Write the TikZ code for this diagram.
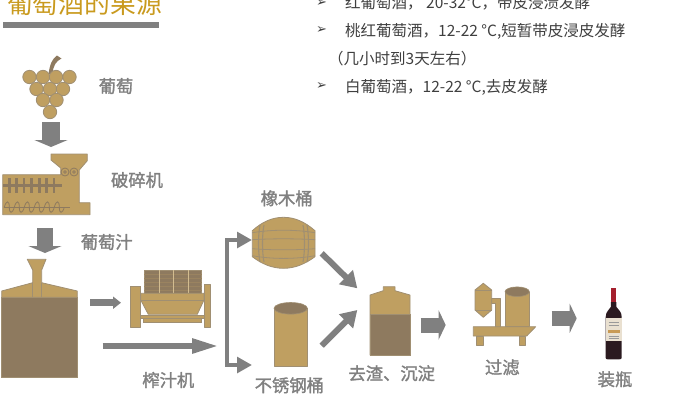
\documentclass[tikz,border=0pt]{standalone}
\usepackage{fontspec}
\setmainfont{Noto Sans CJK SC}
\newfontfamily\dejavu{DejaVu Sans}
\newfontfamily\labelfont[FakeBold=1.6]{Noto Sans CJK SC}
\usetikzlibrary{arrows.meta}
\definecolor{titlegold}{HTML}{C99A1E}
\definecolor{barrelgold}{HTML}{BF9F61}
\definecolor{mudbrown}{HTML}{8E7A5F}
\definecolor{edgebrown}{HTML}{A08F72}
\definecolor{flowgray}{HTML}{808080}
\definecolor{bodytext}{HTML}{3F3F3F}
\definecolor{winedark}{HTML}{2B1A20}
\definecolor{winered}{HTML}{A5202E}
\definecolor{winepaper}{HTML}{E9E0D0}
\definecolor{winecrest}{HTML}{C89A55}
\tikzset{
    part/.style={fill=barrelgold, draw=edgebrown, line width=0.8pt, line join=round},
    mud/.style={fill=mudbrown, draw=edgebrown, line width=0.6pt},
    steplabel/.style={text=flowgray, font=\labelfont\fontsize{17.3}{17}\selectfont, inner sep=0pt},
    infoline/.style={text=bodytext, font=\fontsize{15.5}{16}\selectfont, inner sep=0pt, anchor=base west},
    infobullet/.style={text=bodytext, font=\dejavu\fontsize{13}{13}\selectfont, inner sep=0pt},
    flowbar/.style={draw=flowgray, line width=#1},
    tipbig/.style={-{Triangle[width=29pt,length=7pt]}},
    tipmid/.style={-{Triangle[width=19pt,length=16pt]}},
}

\begin{document}
\begin{tikzpicture}[x=1pt, y=-1pt]
    \useasboundingbox (0,0) rectangle (691,400);
    \clip (0,0) rectangle (691,400);

    %% heading
    \node[text=titlegold, font=\fontsize{25.8}{26}\selectfont, inner sep=0pt, anchor=base] (title) at (84.5,13) {葡萄酒的果源};
    \fill[flowgray] (3,22) rectangle (159,28);

    %% notes on top right
    \foreach \y/\n in {9/a, 36/b, 92/c} {
        \node[infobullet] (bullet\n) at (321.5,\y-5.5) {➢};
    }
    \node[infoline] (notea) at (345,8.5) {红葡萄酒， 20-32°C，带皮浸渍发酵};
    \node[infoline] (noteb) at (345,36) {桃红葡萄酒，12-22 °C,短暂带皮浸皮发酵};
    \node[infoline] (notec) at (328,64) {（几小时到3天左右）};
    \node[infoline] (noted) at (345,92) {白葡萄酒，12-22 °C,去皮发酵};

    %% grapes
    \fill[mudbrown] (48.5,74) .. controls (50,64) and (52,59) .. (57,55.5) -- (61.5,58.5) .. controls (56,61) and (53,66) .. (52.5,74) -- cycle;
    \foreach \x/\y in {29.5/77, 43/77, 56/77, 69.5/77, 36.5/89, 50/89, 63/89, 43/100, 56.5/100, 50/112} {
        \draw[part] (\x,\y) circle (6.7);
    }
    \node[steplabel] (grapelabel) at (116,86) {葡萄};

    %% crusher
    \draw[part] (2.7,174.7) -- (60.7,174.7) -- (60.7,168) -- (51,160) -- (51,154) -- (87.3,154) -- (87.3,160.7) -- (79.3,170) -- (79.3,202.7) -- (90,202.7) -- (90,214.7) -- (2.7,214.7) -- cycle;
    \foreach \x in {65,74} {
        \draw[mudbrown, line width=0.8pt] (\x,172) circle (4) (\x,172) circle (1.4);
    }
    \fill[mudbrown] (2.7,184.3) rectangle (62.3,186.7);
    \foreach \x in {9.3,16.7,24,31.7,39.3,46.7,54} {
        \fill[mudbrown] (\x-1.4,178.3) rectangle (\x+1.4,193.3);
    }
    \draw[mudbrown, line width=0.8pt] (3.5,207.3) -- (70,207.3);
    \foreach \x in {9.3,19.3,29.3,39.3,49.3,59.3} {
        \draw[mudbrown, line width=0.8pt] (\x-5,207.3) .. controls (\x-3,200) and (\x,200) .. (\x,207.3) .. controls (\x,214) and (\x+3,214) .. (\x+5,207.3);
    }
    \node[steplabel] (crushlabel) at (137,180) {破碎机};

    %% tank with juice
    \draw[mud] (1.7,297.3) rectangle (77.3,377.7);
    \draw[part] (1.7,291) -- (32.7,282.7) -- (32.7,270) -- (27.3,259.3) -- (46,259.3) -- (41.7,270) -- (41.7,282.7) -- (77.3,291) -- (77.3,297.3) -- (1.7,297.3) -- cycle;
    \draw[edgebrown, line width=0.8pt] (32.7,282.7) -- (32.7,297.3) (41.7,282.7) -- (41.7,297.3);
    \node[steplabel] (juicelabel) at (106.7,242) {葡萄汁};

    %% press
    \draw[mud] (144.3,270) rectangle (201.7,293.3);
    \foreach \y in {274,278,282,286,290} {
        \draw[mudbrown!75!barrelgold, line width=0.4pt] (144.3,\y) -- (201.7,\y);
    }
    \foreach \x in {159.3,173.3,188.3} {
        \draw[barrelgold!70!white, line width=0.8pt] (\x,270) -- (\x,293.3);
    }
    \draw[part] (143.3,318.3) rectangle (201.7,322.7);
    \draw[part] (140.7,293.3) -- (204,293.3) -- (204,300) -- (197.3,314.3) -- (148.3,314.3) -- (140.7,300) -- cycle;
    \draw[edgebrown, line width=0.8pt] (140.7,300) -- (204,300);
    \draw[part] (140.7,315.8) rectangle (204,318.3);
    \draw[part] (130,286) rectangle (140.7,327.3);
    \draw[part] (204,284) rectangle (210,327.3);
    \node[steplabel] (presslabel) at (168.3,380) {榨汁机};

    %% barrel
    \draw[part] (252.3,230.7) .. controls (262,222) and (272,217.3) .. (283.5,217.3) .. controls (295,217.3) and (305,222) .. (315,230.7) -- (315,256.7) .. controls (305,264) and (295,268.3) .. (283.5,268.3) .. controls (272,268.3) and (262,264) .. (252.3,256.7) -- cycle;
    \foreach \bend in {-11,-4,5,12} {
        \draw[edgebrown, line width=0.8pt] (252.3,243.7+\bend) .. controls (272,243.7+\bend*1.3) and (295,243.7+\bend*1.3) .. (315,243.7+\bend);
    }
    \foreach \x/\s in {260/1, 264/1, 303/-1, 307/-1} {
        \draw[edgebrown, line width=1.1pt] (\x,225) .. controls (\x-2*\s,235) and (\x-2*\s,252) .. (\x,262);
    }
    \node[steplabel] (barrellabel) at (286.7,198.3) {橡木桶};

    %% steel tank
    \draw[part] (274,308.3) -- (274,366) -- (307.3,366) -- (307.3,308.3);
    \draw[fill=mudbrown, draw=edgebrown, line width=0.6pt] (290.7,308.3) ellipse (16.7 and 5.8);
    \node[steplabel] (steellabel) at (289.3,385.3) {不锈钢桶};

    %% settling tank
    \draw[part] (370,295) -- (383.3,290.7) -- (383.3,286.7) -- (395,286.7) -- (395,290.7) -- (410,295) -- (410,355) -- (370,355) -- cycle;
    \draw[mud] (370,314.3) rectangle (410,355);
    \node[steplabel] (settlelabel) at (391.7,373.3) {去渣、沉淀};

    %% filter
    \draw[part] (491.7,298.5) -- (500,298.5) -- (500,327) -- (495,327) -- (495,303) -- (491.7,303) -- cycle;
    \draw[part] (483.3,283.3) -- (491.7,290) -- (491.7,310) -- (483.3,317.3) -- (475,310) -- (475,290) -- cycle;
    \draw[edgebrown, line width=0.8pt] (475,290) -- (491.7,290) (475,310) -- (491.7,310);
    \draw[part] (505,291.7) -- (505,326.7) -- (529.3,326.7) -- (529.3,291.7);
    \draw[fill=mudbrown, draw=edgebrown, line width=0.6pt] (517.2,291.7) ellipse (12.2 and 4.8);
    \draw[part] (476.7,336) rectangle (483.3,345);
    \draw[part] (519.3,336) rectangle (525,345);
    \draw[part] (473.3,326.7) -- (535.7,326.7) -- (526.7,336) -- (473.3,336) -- cycle;
    \node[steplabel] (filterlabel) at (502.3,367.3) {过滤};

    %% bottle
    \fill[winedark] (611,302) -- (616.3,302) -- (616.5,307) .. controls (618,310) and (621.7,311) .. (621.7,317) -- (621.7,358) .. controls (621.7,359.3) and (620,359.3) .. (619,359.3) -- (608,359.3) .. controls (607,359.3) and (605.7,359.3) .. (605.7,358) -- (605.7,317) .. controls (605.7,311) and (609.5,310) .. (610.8,307) -- cycle;
    \fill[winered] (611,288.3) rectangle (616.3,302);
    \fill[winepaper] (605.7,318) rectangle (621.7,341);
    \fill[winecrest] (608,329.5) rectangle (620,332.5);
    \foreach \y in {322,325,336,338} {
        \draw[black!40, line width=0.4pt] (608.5,\y) -- (619,\y);
    }
    \node[steplabel] (bottlelabel) at (615,379.3) {装瓶};

    %% ends of the flow arrows
    \coordinate (grapeout) at (51,122);
    \coordinate (crushin) at (51,147);
    \coordinate (crushout) at (45,228);
    \coordinate (tankin) at (45,253);
    \coordinate (tankouta) at (90,302.7);
    \coordinate (pressin) at (121,302.7);
    \coordinate (tankoutb) at (102.7,346);
    \coordinate (splitin) at (220,346);
    \coordinate (barrelin) at (252,240);
    \coordinate (steelin) at (252,365);
    \coordinate (barrelout) at (321.7,253.3);
    \coordinate (steelout) at (321.7,345.7);
    \coordinate (settleina) at (357.3,288.3);
    \coordinate (settleinb) at (357.3,310);
    \coordinate (settleout) at (420.7,325);
    \coordinate (filterin) at (445.7,325);
    \coordinate (filterout) at (551.7,318.3);
    \coordinate (bottlein) at (576.7,318.3);

    %% flow arrows
    \draw[flowbar=18pt, -{Triangle[width=33pt,length=7pt]}] (grapeout) -- (crushin);
    \draw[flowbar=16pt, -{Triangle[width=33pt,length=7pt]}] (crushout) -- (tankin);
    \draw[flowbar=6.5pt, -{Triangle[width=12pt,length=8pt]}] (tankouta) -- (pressin);
    \draw[flowbar=6.5pt, -{Triangle[width=13.5pt,length=28pt]}] (tankoutb) -- (splitin);
    \draw[flowbar=4pt, {Triangle[width=15.7pt,length=15pt]}-{Triangle[width=15.7pt,length=15pt]}] (barrelin) -- (227,240) -- (227,365) -- (steelin);
    \draw[flowbar=6pt, tipmid] (barrelout) -- (settleina);
    \draw[flowbar=6pt, tipmid] (steelout) -- (settleinb);
    \draw[flowbar=15pt, tipbig] (settleout) -- (filterin);
    \draw[flowbar=15pt, tipbig] (filterout) -- (bottlein);
\end{tikzpicture}
\end{document}
